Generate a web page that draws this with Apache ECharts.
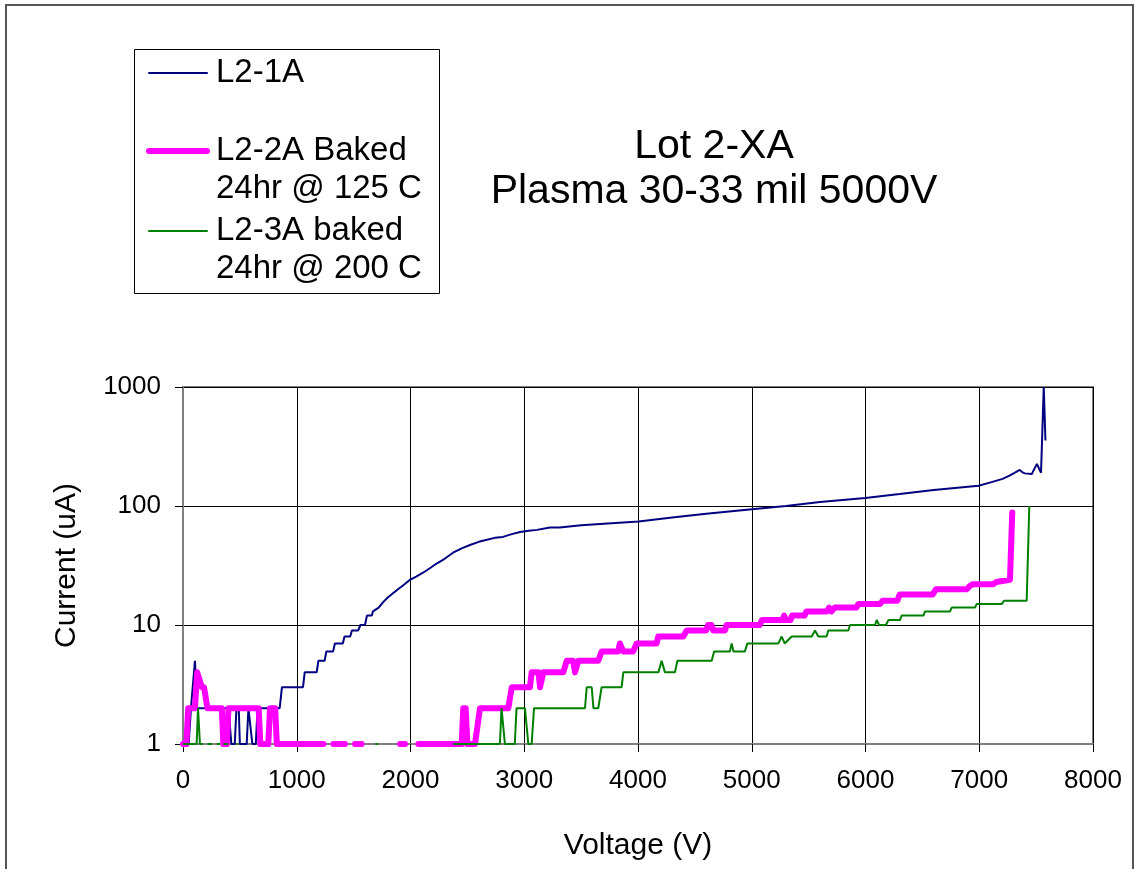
<!DOCTYPE html>
<html>
<head>
<meta charset="utf-8">
<script src="https://cdn.jsdelivr.net/npm/echarts@6/dist/echarts.min.js"></script>
<style>
  html, body { margin: 0; padding: 0; background: #fff; }
  #vis { width: 1136px; height: 869px; }
</style>
</head>
<body>
<div id="vis"></div>
<script>
// values, null = no reading (gap on the log axis)
const voltL21A = [0, 50, 70, 105, 125, 400, 425, 455, 470, 490, 500, 560, 575, 590, 610, 640, 655, 850, 870, 1055, 1070, 1175, 1190, 1245, 1260, 1320, 1335, 1405, 1420, 1470, 1485, 1540, 1560, 1600, 1617, 1660, 1670, 1720, 1758, 1800, 1846, 1890, 1934, 1996, 2050, 2110, 2170, 2233, 2300, 2374, 2450, 2523, 2600, 2672, 2740, 2813, 2890, 2963, 3040, 3112, 3226, 3312, 3500, 3700, 4006, 4300, 4600, 5002, 5300, 5600, 5998, 6300, 6600, 6994, 7100, 7205, 7266, 7310, 7356, 7380, 7401, 7462, 7490, 7507, 7543, 7567, 7582]
const curL21A = [1, 1, 2, 5, 2, 2, 1, 1, 2, 2, 1, 1, 2, 2, 1, 1, 2, 2, 3, 3, 4, 4, 5, 5, 6, 6, 7, 7, 8, 8, 9, 9, 10, 10, 12, 12, 13, 14, 15.5, 17, 18.5, 20, 21.5, 24, 25.5, 27.5, 30, 33, 36, 40.5, 44, 47, 50, 52, 54, 55, 58, 60.5, 62, 63, 66, 66, 69, 71, 74, 80, 86, 94, 100, 108, 117, 126, 136, 148, 158, 169, 180, 190, 201, 192, 188, 186, 210, 226, 190, 1000, 355]

const voltL22A = [0, 30, 45, 105, 125, 140, 165, 185, 215, 341, 355, 385, 400, 665, 680, 750, 765, 810, 825, 1235, 1236, 1322, 1424, 1425, 1512, 1571, 1572, 1908, 1952, 1953, 2069, 2450, 2464, 2485, 2500, 2567, 2611, 2860, 2890, 3050, 3065, 3125, 3139, 3155, 3168, 3343, 3373, 3430, 3446, 3460, 3475, 3651, 3680, 3826, 3841, 3856, 3870, 3958, 3988, 4164, 4178, 4398, 4428, 4600, 4615, 4645, 4660, 4765, 4779, 5071, 5090, 5270, 5285, 5300, 5340, 5355, 5465, 5480, 5660, 5680, 5700, 5730, 5920, 5937, 6128, 6150, 6280, 6300, 6590, 6620, 6890, 6910, 6940, 7124, 7150, 7270, 7290]
const curL22A = [1, 1, 2, 2, 4, 4, 3, 3, 2, 2, 1, 1, 2, 2, 1, 1, 2, 2, 1, 1, null, 1, 1, null, 1, 1, null, 1, 1, null, 1, 1, 2, 2, 1, 1, 2, 2, 3, 3, 4, 4, 3, 3, 4, 4, 5, 5, 4, 4, 5, 5, 6, 6, 7, 7, 6, 6, 7, 7, 8, 8, 9, 9, 10, 10, 9, 9, 10, 10, 11, 11, 12, 11, 11, 12, 12, 13, 13, 14, 13, 14, 14, 15, 15, 16, 16, 18, 18, 20, 20, 21, 22, 22, 23, 24, 88]

const voltL23A = [0, 100, 120, 132, 149, 175, 176, 215, 255, 256, 296, 325, 326, 354, 398, 399, 470, 485, 486, 1690, 1715, 1716, 2377, 2786, 2800, 2830, 2917, 2932, 3006, 3036, 3065, 3086, 3534, 3549, 3593, 3608, 3651, 3680, 3856, 3871, 4179, 4208, 4237, 4325, 4346, 4648, 4669, 4808, 4823, 4840, 4940, 4961, 5234, 5263, 5290, 5307, 5351, 5527, 5556, 5585, 5658, 5673, 5849, 5864, 6084, 6098, 6120, 6180, 6201, 6303, 6318, 6509, 6523, 6743, 6758, 6963, 6977, 7197, 7218, 7417, 7440]
const curL23A = [1, 1, 1, 2, 1, 1, null, 1, 1, null, 1, 1, null, 1, 1, null, 1, 1, null, 1, 1, null, 1, 1, 2, 1, 1, 2, 2, 1, 1, 2, 2, 3, 3, 2, 2, 3, 3, 4, 4, 5, 4, 4, 5, 5, 6, 6, 7, 6, 6, 7, 7, 8, 7, 7, 8, 8, 9, 8, 8, 9, 9, 10, 10, 11, 10, 10, 11, 11, 12, 12, 13, 13, 14, 14, 15, 15, 16, 16, 100]

const xTicks = [0, 1000, 2000, 3000, 4000, 5000, 6000, 7000, 8000]

const FONT = 'Liberation Sans, Arial, sans-serif'

function pairs (volts, amps) {
  return volts.map((v, i) => [v, amps[i] == null ? '-' : amps[i]])
}

const chart = echarts.init(document.getElementById('vis'), null, { renderer: 'canvas' })

const legendRows = [
  { y: 73, color: '#000080', width: 2, text: ['L2-1A'] },
  { y: 151, color: '#FF00FF', width: 6, text: ['L2-2A Baked', '24hr @ 125 C'] },
  { y: 231, color: '#008000', width: 2, text: ['L2-3A baked', '24hr @ 200 C'] }
]
const legendGraphics = [{
  type: 'rect',
  shape: { x: 134.5, y: 49.5, width: 305, height: 244 },
  style: { fill: '#fff', stroke: '#000', lineWidth: 1 }
}]
legendRows.forEach(row => {
  legendGraphics.push({
    type: 'line',
    shape: { x1: 149, y1: row.y, x2: 207, y2: row.y },
    style: { stroke: row.color, lineWidth: row.width, lineCap: 'round' }
  })
  row.text.forEach((t, k) => {
    legendGraphics.push({
      type: 'text',
      x: 216,
      y: row.y + k * 38,
      style: { text: t, fill: '#000', font: '33px ' + FONT, textVerticalAlign: 'middle' }
    })
  })
})

const options = {
  animation: false,
  backgroundColor: '#fff',
  title: {
    text: 'Lot 2-XA\nPlasma 30-33 mil 5000V',
    left: 709,
    top: 119,
    textAlign: 'center',
    textStyle: { fontFamily: FONT, fontSize: 41, fontWeight: 'normal', color: '#000', lineHeight: 45 }
  },
  grid: {
    left: 183,
    right: 43,
    top: 387,
    bottom: 125,
    show: true,
    borderColor: '#808080',
    borderWidth: 2
  },
  xAxis: {
    type: 'value',
    min: xTicks[0],
    max: xTicks[xTicks.length - 1],
    interval: 1000,
    name: 'Voltage (V)',
    nameLocation: 'middle',
    nameGap: 87,
    nameTextStyle: { fontFamily: FONT, fontSize: 30, color: '#000' },
    axisLine: { show: true, lineStyle: { color: '#808080', width: 2 } },
    axisTick: { show: true, inside: false, length: 8, lineStyle: { color: '#000' } },
    axisLabel: { fontFamily: FONT, fontSize: 26, color: '#000', margin: 24, formatter: v => String(v) },
    splitLine: { show: true, lineStyle: { color: '#000', width: 1 } }
  },
  yAxis: {
    type: 'log',
    logBase: 10,
    min: 1,
    max: 1000,
    name: 'Current (uA)',
    nameLocation: 'middle',
    nameGap: 101,
    nameRotate: 90,
    nameTextStyle: { fontFamily: FONT, fontSize: 30, color: '#000' },
    axisLine: { show: true, lineStyle: { color: '#808080', width: 2 } },
    axisTick: { show: true, inside: false, length: 8, lineStyle: { color: '#000' } },
    axisLabel: { fontFamily: FONT, fontSize: 26, color: '#000', margin: 22, formatter: v => String(Math.round(v)) },
    splitLine: { show: true, lineStyle: { color: '#000', width: 1 } }
  },
  graphic: [
    {
      type: 'rect',
      shape: { x: 6, y: 5, width: 1127, height: 900 },
      style: { fill: 'none', stroke: '#555', lineWidth: 2 },
      z: 100
    },
    ...legendGraphics
  ],
  series: [
    {
      name: 'L2-1A',
      type: 'line',
      data: pairs(voltL21A, curL21A),
      showSymbol: false,
      symbol: 'none',
      connectNulls: false,
      lineStyle: { color: '#000080', width: 2 }
    },
    {
      name: 'L2-2A Baked 24hr @ 125 C',
      type: 'line',
      data: pairs(voltL22A, curL22A),
      showSymbol: false,
      symbol: 'none',
      connectNulls: false,
      lineStyle: { color: '#FF00FF', width: 6, cap: 'round', join: 'round' }
    },
    {
      name: 'L2-3A baked 24hr @ 200 C',
      type: 'line',
      data: pairs(voltL23A, curL23A),
      showSymbol: false,
      symbol: 'none',
      connectNulls: false,
      lineStyle: { color: '#008000', width: 2 }
    }
  ]
}

chart.setOption(options)
window.addEventListener('resize', () => chart.resize())
</script>
</body>
</html>
